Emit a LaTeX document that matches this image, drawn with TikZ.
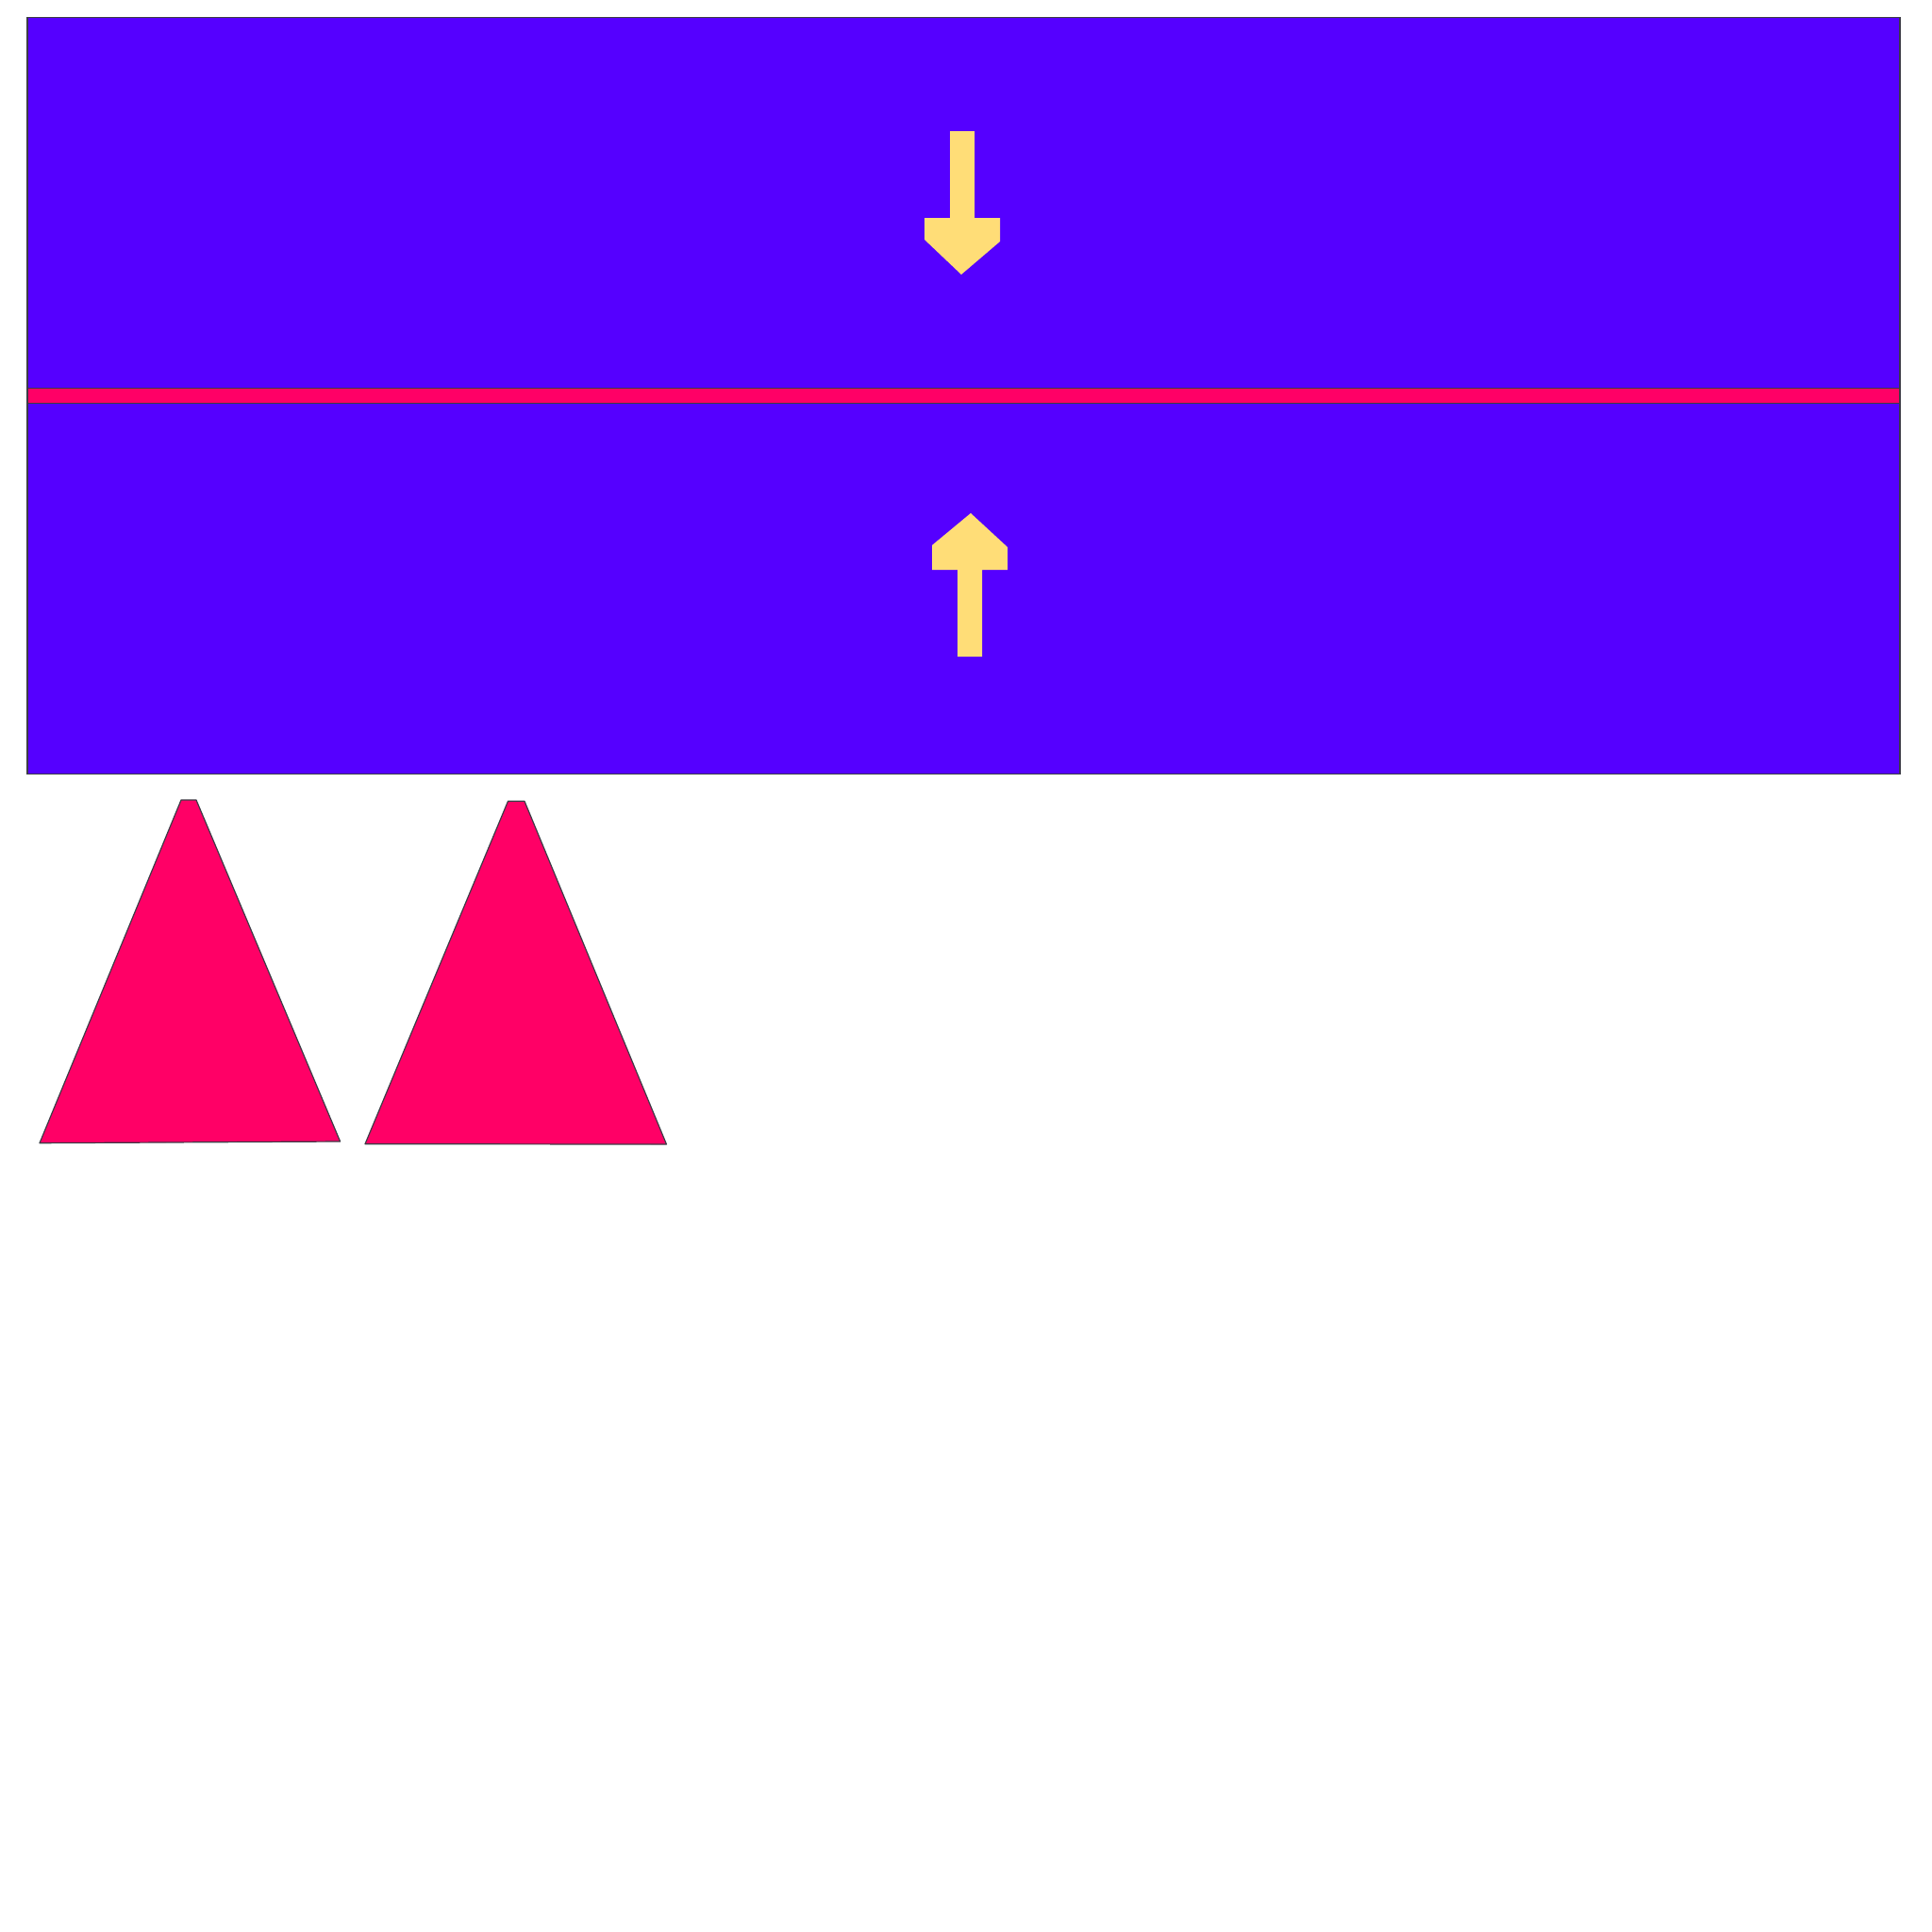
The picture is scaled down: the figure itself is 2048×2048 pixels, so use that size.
\documentclass[tikz,border=0pt]{standalone}
\usepackage{tikz}
\definecolor{panelblue}{RGB}{85,0,255}
\definecolor{bandred}{RGB}{255,0,102}
\definecolor{arrowyellow}{RGB}{255,221,119}
\definecolor{edgegray}{RGB}{60,60,70}
\tikzset{
  panel/.style={fill=panelblue, draw=edgegray, line width=1.5pt},
  band/.style={fill=bandred, draw=edgegray, line width=1.5pt},
  cone/.style={fill=bandred, draw=edgegray, line width=1.2pt, line join=round},
  fatarrow/.style={fill=arrowyellow, draw=none}
}
\begin{document}
\begin{tikzpicture}[x=1pt,y=-1pt]
\useasboundingbox (0,0) rectangle (2048,2048);
\fill[white] (0,0) rectangle (2048,2048);
% main panel
\draw[panel] (29,18.5) rectangle (2014,820.5);
% red band
\draw[band] (29,411.5) rectangle (2014,427.5);
% down arrow
\fill[fatarrow] (1007,139) -- (1033,139) -- (1033,231) -- (1060,231) -- (1060,256)
  -- (1019,291) -- (980,254) -- (980,231) -- (1007,231) -- cycle;
% up arrow
\fill[fatarrow] (1015,696) -- (1041,696) -- (1041,604) -- (1068,604) -- (1068,580)
  -- (1029,544) -- (988,578) -- (988,604) -- (1015,604) -- cycle;
% cones
\draw[cone] (192,848) -- (208,848) -- (360.6,1210) -- (42,1211.7) -- cycle;
\draw[cone] (538.5,849.3) -- (556,849.3) -- (706.5,1213) -- (387,1212.7) -- cycle;
\end{tikzpicture}
\end{document}
